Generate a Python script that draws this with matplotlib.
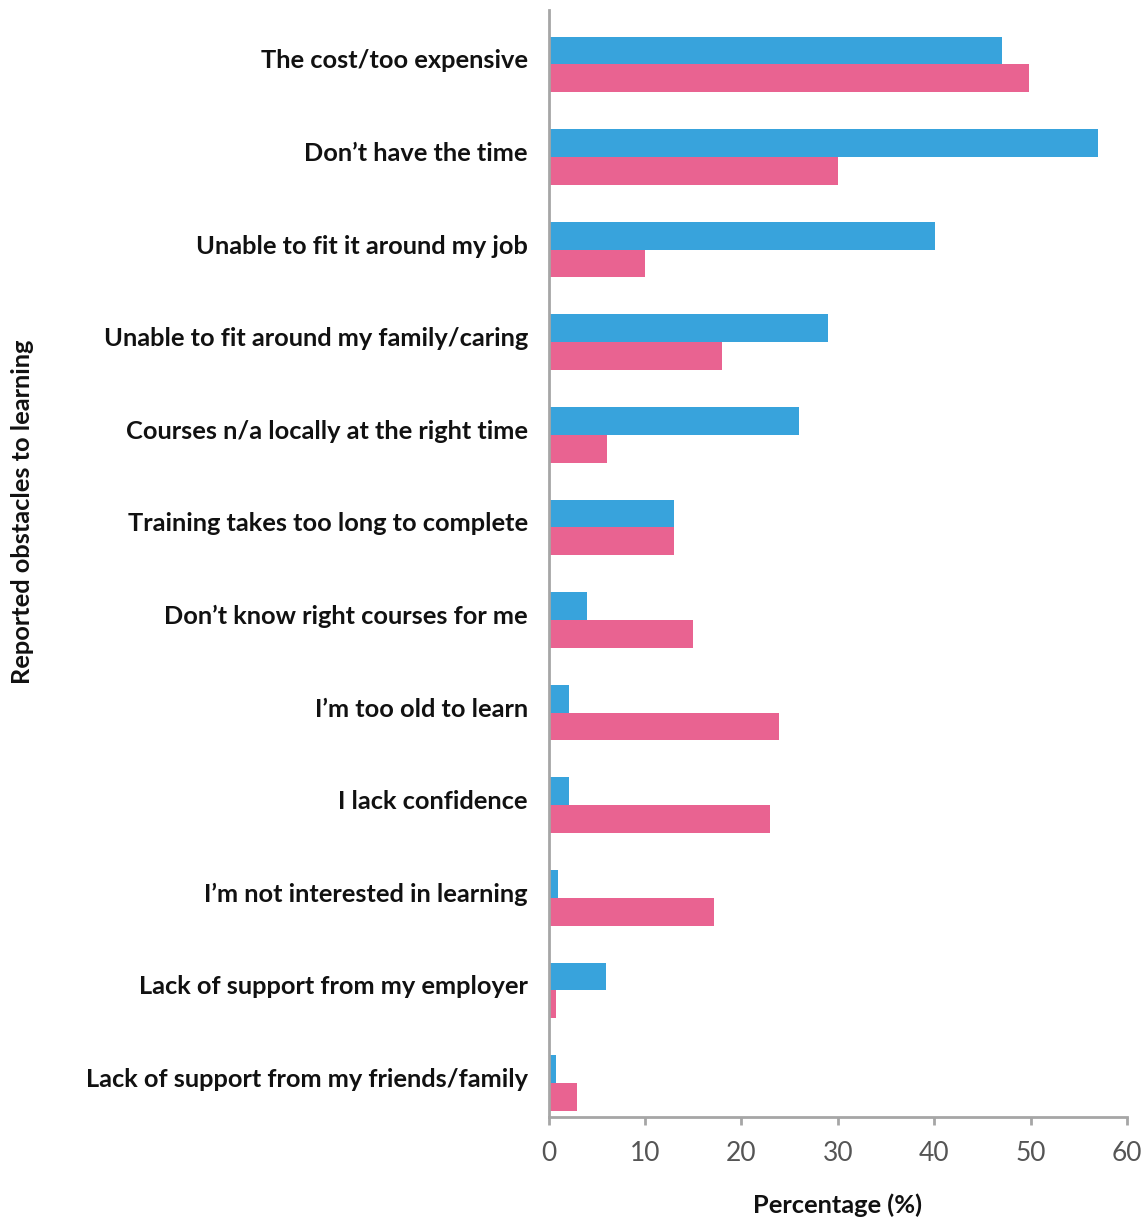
import matplotlib
matplotlib.use("Agg")
import matplotlib.pyplot as plt
import numpy as np

plt.rcParams['font.family'] = ['Lato', 'DejaVu Sans']

categories = [
    "The cost/too expensive",
    "Don\u2019t have the time",
    "Unable to fit it around my job",
    "Unable to fit around my family/caring",
    "Courses n/a locally at the right time",
    "Training takes too long to complete",
    "Don\u2019t know right courses for me",
    "I\u2019m too old to learn",
    "I lack confidence",
    "I\u2019m not interested in learning",
    "Lack of support from my employer",
    "Lack of support from my friends/family",
]
blue_values = [47.0, 57.0, 40.1, 29.0, 26.0, 13.0, 4.0, 2.1, 2.1, 1.0, 5.9, 0.8]
pink_values = [49.8, 30.0, 10.0, 18.0, 6.1, 13.0, 15.0, 23.9, 23.0, 17.2, 0.8, 2.9]
x_ticks = [0, 10, 20, 30, 40, 50, 60]

blue = '#38a3dc'
pink = '#e96391'
grey = '#a6a6a6'

fig = plt.figure(figsize=(11.43, 12.18), dpi=100)
ax = fig.add_axes([0.480, 0.083, 0.506, 0.909])

y = np.arange(len(categories))
h = 0.3
ax.barh(y - h / 2, blue_values, height=h, color=blue)
ax.barh(y + h / 2, pink_values, height=h, color=pink)

ax.set_ylim(len(categories) - 1 + 0.365, -0.59)
ax.set_xlim(0, 60)
ax.set_xticks(x_ticks)
ax.set_xticklabels([str(t) for t in x_ticks], fontsize=19, color='#555555')
# labels sit a little above the middle of each pair (ticks are hidden)
ax.set_yticks(y - 0.06)
ax.set_yticklabels(categories, fontsize=18.3, fontweight='bold', color='#111111')

for s in ['top', 'right']:
    ax.spines[s].set_visible(False)
for s in ['left', 'bottom']:
    ax.spines[s].set_color(grey)
    ax.spines[s].set_linewidth(2)

ax.tick_params(axis='y', length=0, pad=15)
ax.tick_params(axis='x', length=6, width=2, color=grey, pad=11)

ax.set_xlabel("Percentage (%)", fontsize=18.3, fontweight='bold', labelpad=20, color='#111111')
fig.text(0.02, 0.58, "Reported obstacles to learning", rotation=90, fontsize=18.3,
         fontweight='bold', ha='center', va='center', color='#111111')

fig.savefig("out.png", dpi=100)
